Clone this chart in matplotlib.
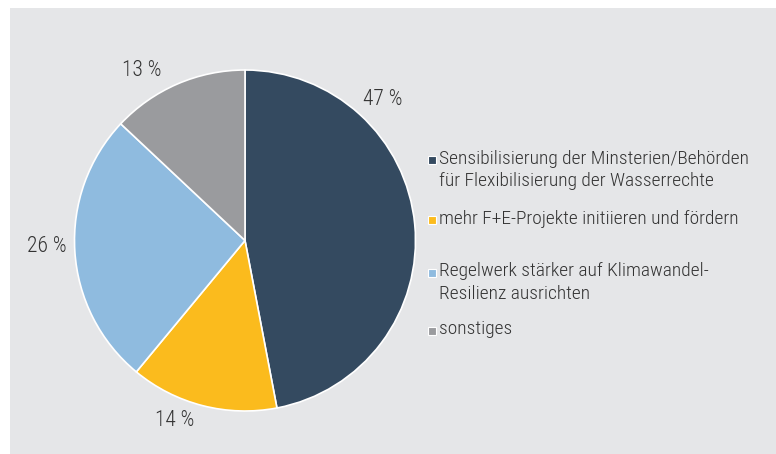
import matplotlib.pyplot as plt
from matplotlib.patches import Rectangle

categories = [
    "Sensibilisierung der Minsterien/Behörden\nfür Flexibilisierung der Wasserrechte",
    "mehr F+E-Projekte initiieren und fördern",
    "Regelwerk stärker auf Klimawandel-\nResilienz ausrichten",
    "sonstiges",
]
shares = [47, 14, 26, 13]
colors = ["#344a60", "#fbbb1d", "#8fbbdf", "#9a9b9e"]

# label positions (pixels from top-left) for the percentage labels
label_px = [(383, 100), (175, 420), (47, 247), (142, 70)]
# legend rows: y of first text line
legend_y = [160, 220, 273, 331]

plt.rcParams["font.family"] = ["Roboto Condensed", "Archivo Narrow", "Liberation Sans Narrow",
                               "Liberation Sans", "DejaVu Sans"]
txt_color = "#333333"

W, H = 776, 454
fig = plt.figure(figsize=(W / 100, H / 100), dpi=100)
fig.patch.set_facecolor("white")
fig.add_artist(Rectangle((10 / W, 0), 1 - 10 / W, 1 - 8 / H, transform=fig.transFigure,
                         facecolor="#e5e6e8", edgecolor="none", zorder=0))

cx, cy, r = 245, 240.5, 170.5
ax = fig.add_axes([(cx - r) / W, (H - cy - r) / H, 2 * r / W, 2 * r / H])
ax.pie(shares, colors=colors, startangle=90, counterclock=False,
       wedgeprops=dict(edgecolor="white", linewidth=1.2))
ax.set_xlim(-1, 1)
ax.set_ylim(-1, 1)
ax.set_aspect("equal")
ax.axis("off")

for s, (x, y) in zip(shares, label_px):
    fig.text(x / W, 1 - y / H, f"{s} %", fontsize=15.5, color=txt_color,
             fontweight="light", ha="center", va="center")

for cat, col, y in zip(categories, colors, legend_y):
    fig.add_artist(Rectangle((428 / W, 1 - (y + 4) / H), 8 / W, 8 / H,
                             transform=fig.transFigure, facecolor=col,
                             edgecolor="white", linewidth=0.8))
    fig.text(439 / W, 1 - (y - 10.5) / H, cat, fontsize=14, color=txt_color,
             fontweight="light", ha="left", va="top", linespacing=1.3)

fig.savefig("out.png", dpi=100)
